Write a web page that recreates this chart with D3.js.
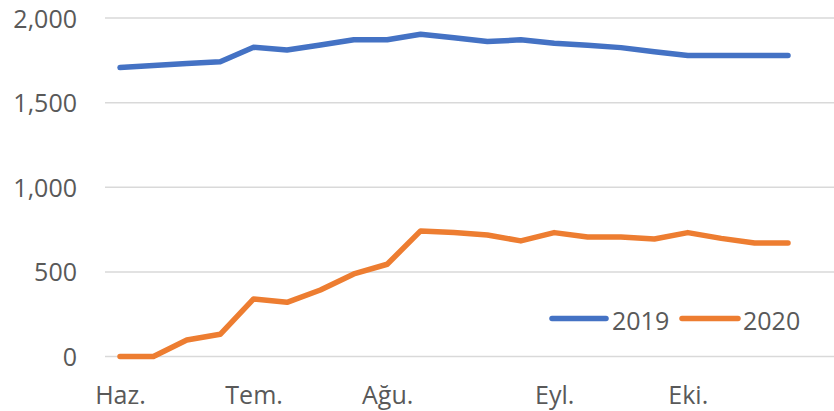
<!DOCTYPE html>
<html>
<head>
<meta charset="utf-8">
<script src="https://cdn.jsdelivr.net/npm/d3@7"></script>
<style>
  html, body { margin: 0; padding: 0; background: #fff; }
  svg { display: block; }
  text { font-family: "Open Sans", "Liberation Sans", sans-serif; fill: #595959; }
</style>
</head>
<body>
<svg id="chart" width="834" height="411"></svg>
<script>
const weeks = d3.range(21);
const monthLabels = [
  { index: 0, label: "Haz." },
  { index: 4, label: "Tem." },
  { index: 8, label: "Ağu." },
  { index: 13, label: "Eyl." },
  { index: 17, label: "Eki." }
];
const series2019 = [1707, 1719, 1731, 1742, 1827, 1811, 1841, 1871, 1871, 1904, 1883, 1861, 1871, 1851, 1839, 1825, 1801, 1778, 1778, 1778, 1778];
const series2020 = [0, 0, 97, 131, 340, 320, 393, 488, 545, 742, 732, 718, 683, 732, 706, 706, 694, 732, 698, 671, 671];
const yTicks = [0, 500, 1000, 1500, 2000];
const seriesNames = ["2019", "2020"];
const colors = ["#4472C4", "#ED7D31"];

const svg = d3.select("#chart");
const x = d3.scalePoint().domain(weeks).range([120, 788]);
const y = d3.scaleLinear().domain([0, 2000]).range([356.5, 18]);

// gridlines
const yAxis = d3.axisLeft(y).tickValues(yTicks).tickSize(0).tickPadding(0)
  .tickFormat(d3.format(","));
const gy = svg.append("g").attr("transform", "translate(77,0)").call(yAxis);
gy.select(".domain").remove();
gy.selectAll("text").attr("x", 0).attr("dy", "0.36em")
  .style("font-size", "25px").style("font-family", '"Open Sans", sans-serif').attr("fill", "#595959");

svg.append("g").selectAll("line").data(yTicks).join("line")
  .attr("x1", 105).attr("x2", 834)
  .attr("y1", d => y(d)).attr("y2", d => y(d))
  .attr("stroke", "#d9d9d9").attr("stroke-width", 1.5);

// x axis labels
const xAxis = d3.axisBottom(x).tickValues(monthLabels.map(d => d.index))
  .tickSize(0).tickPadding(0)
  .tickFormat(i => monthLabels.find(m => m.index === i).label);
const gx = svg.append("g").attr("transform", "translate(0,404)").call(xAxis);
gx.select(".domain").remove();
gx.selectAll("text").attr("y", 0).attr("dy", 0)
  .style("font-size", "25px").style("font-family", '"Open Sans", sans-serif').attr("fill", "#595959");

// lines
const line = d3.line().x((d, i) => x(weeks[i])).y(d => y(d));
[series2019, series2020].forEach((s, k) => {
  svg.append("path").datum(s)
    .attr("d", line)
    .attr("fill", "none")
    .attr("stroke", colors[k])
    .attr("stroke-width", 5.5)
    .attr("stroke-linejoin", "round")
    .attr("stroke-linecap", "round");
});

// legend
const legendItems = [
  { x1: 552, x2: 606, tx: 612 },
  { x1: 682, x2: 738, tx: 743 }
];
const lg = svg.append("g");
legendItems.forEach((it, k) => {
  lg.append("line").attr("x1", it.x1).attr("x2", it.x2).attr("y1", 318.5).attr("y2", 318.5)
    .attr("stroke", colors[k]).attr("stroke-width", 5.5).attr("stroke-linecap", "round");
  lg.append("text").attr("x", it.tx).attr("y", 330)
    .style("font-size", "25px").text(seriesNames[k]);
});
</script>
</body>
</html>
